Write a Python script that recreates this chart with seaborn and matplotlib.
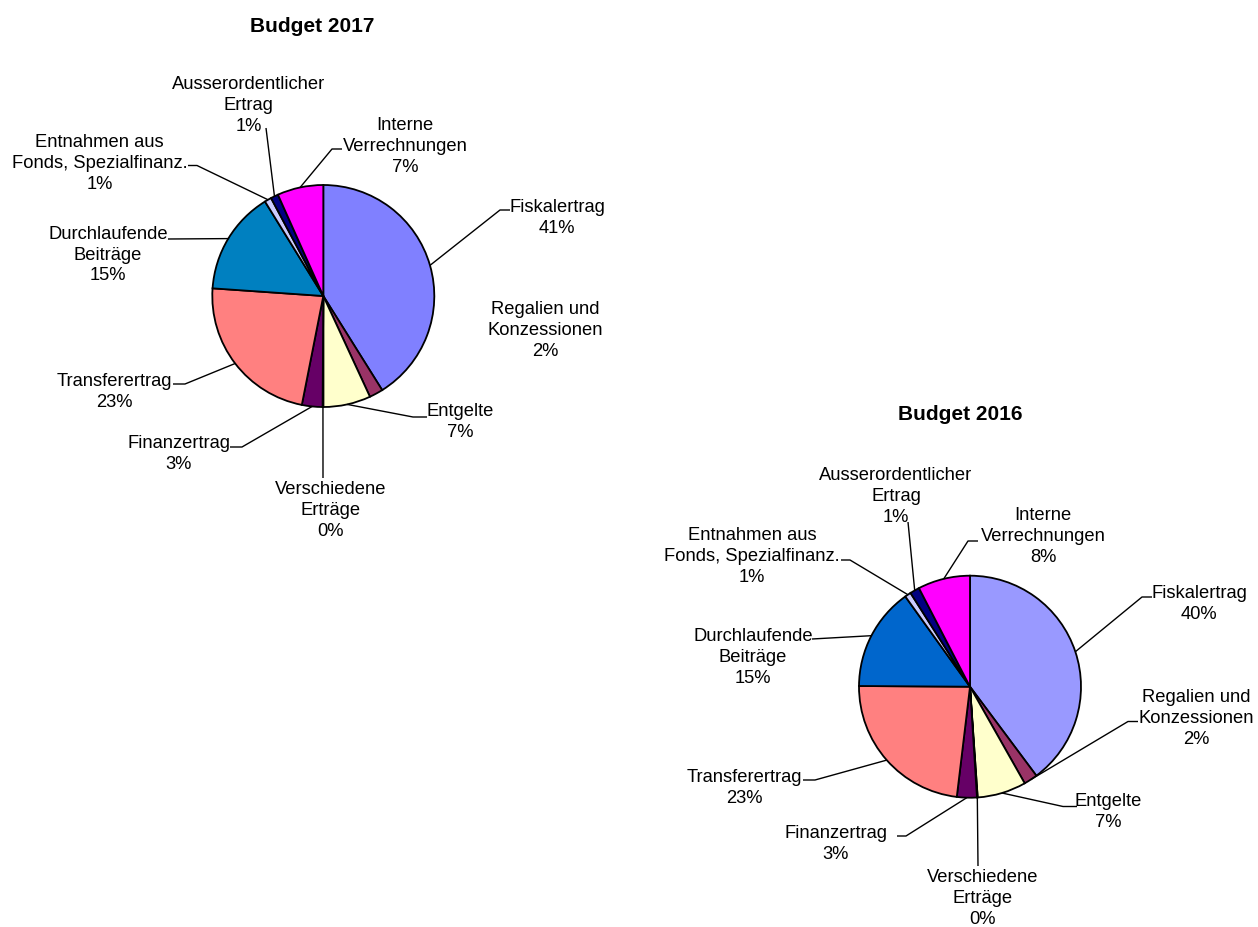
import numpy as np
import matplotlib
matplotlib.use("Agg")
import matplotlib.pyplot as plt
import seaborn as sns

# Revenue categories (clockwise from 12 o'clock)
categories = [
    "Fiskalertrag",
    "Regalien und\nKonzessionen",
    "Entgelte",
    "Verschiedene\nErträge",
    "Finanzertrag",
    "Transferertrag",
    "Durchlaufende\nBeiträge",
    "Entnahmen aus\nFonds, Spezialfinanz.",
    "Ausserordentlicher\nErtrag",
    "Interne\nVerrechnungen",
]

# Shares of total revenue in percent
shares_2017 = [41.1, 2.0, 6.9, 0.1, 3.0, 23.0, 15.1, 1.0, 1.1, 6.7]
shares_2016 = [39.8, 2.0, 7.1, 0.1, 2.9, 23.2, 15.0, 0.9, 1.4, 7.6]

colors_2017 = ["#8080FF", "#993366", "#FFFFCC", "#CCFFFF", "#660066",
               "#FF8080", "#0080C0", "#CCCCFF", "#000080", "#FF00FF"]
colors_2016 = ["#9999FF", "#993366", "#FFFFCC", "#CCFFFF", "#660066",
               "#FF8080", "#0066CC", "#CCCCFF", "#000080", "#FF00FF"]

sns.set_theme(style="white")
plt.rcParams["font.family"] = ["Liberation Sans", "DejaVu Sans"]

W, H = 1258, 927
LABEL_SIZE = 13.2
LINE_STEP = 21

fig = plt.figure(figsize=(W / 100, H / 100), dpi=100)
ax = fig.add_axes([0, 0, 1, 1])

# Label placement in canvas pixels: (text centre x, first baseline y,
# leader vertices following the point on the wedge rim)
layout_2017 = [
    (557, 211.5, [(500, 210), (510, 210)]),
    (545, 314, []),
    (460, 416, [(413, 417), (427, 417)]),
    (331, 494, [(323, 478)]),
    (179, 448, [(242, 447), (230, 447)]),
    (114, 386, [(185, 384), (173, 384)]),
    (108, 238.5, [(168, 239)]),
    (99.5, 146.5, [(197, 165.5), (188, 165.5)]),
    (248.5, 88.5, [(266, 128)]),
    (405, 130, [(332, 149), (342, 149)]),
]
layout_2016 = [
    (1199, 598, [(1142, 597), (1152, 597)]),
    (1196, 702, [(1128, 721.5), (1138, 721.5)]),
    (1108, 806, [(1063, 806.5), (1077, 806.5)]),
    (983, 882, [(978, 866)]),
    (836, 838, [(906, 836), (897, 836)]),
    (744, 782, [(815, 780), (803, 780)]),
    (753, 641, [(812, 639)]),
    (752, 540, [(850, 560), (841, 560)]),
    (896, 480, [(908, 522)]),
    (1043, 520, [(968, 541), (978, 541)]),
]


def draw_budget(values, colors, centre, radius, title, title_xy, layout):
    wedges, _ = ax.pie(
        values, colors=colors, center=centre, radius=radius,
        startangle=-90, counterclock=True, frame=True,
        wedgeprops=dict(edgecolor="black", linewidth=1.3),
    )
    total = float(np.sum(values))
    for w, name, value, (tx, ty, leader) in zip(wedges, categories, values, layout):
        if leader:
            mid = np.deg2rad((w.theta1 + w.theta2) / 2)
            x0 = w.center[0] + w.r * np.cos(mid)
            y0 = w.center[1] + w.r * np.sin(mid)
            xs = [x0] + [p[0] for p in leader]
            ys = [y0] + [p[1] for p in leader]
            ax.plot(xs, ys, color="black", linewidth=1.0, solid_capstyle="butt")
        lines = name.split("\n") + [f"{value / total * 100:.0f}%"]
        for i, line in enumerate(lines):
            ax.text(tx, ty + i * LINE_STEP, line, ha="center", va="baseline",
                    fontsize=LABEL_SIZE, color="black")
    ax.text(title_xy[0], title_xy[1], title, ha="center", va="baseline",
            fontsize=15, fontweight="bold", color="black")


draw_budget(shares_2017, colors_2017, (323.3, 296), 111,
            "Budget 2017", (312, 32), layout_2017)
draw_budget(shares_2016, colors_2016, (970, 686.7), 111,
            "Budget 2016", (960, 420), layout_2016)

ax.set_xlim(0, W)
ax.set_ylim(H, 0)
ax.set_aspect("equal")
ax.axis("off")

fig.savefig("out.png", dpi=100, facecolor="white")
